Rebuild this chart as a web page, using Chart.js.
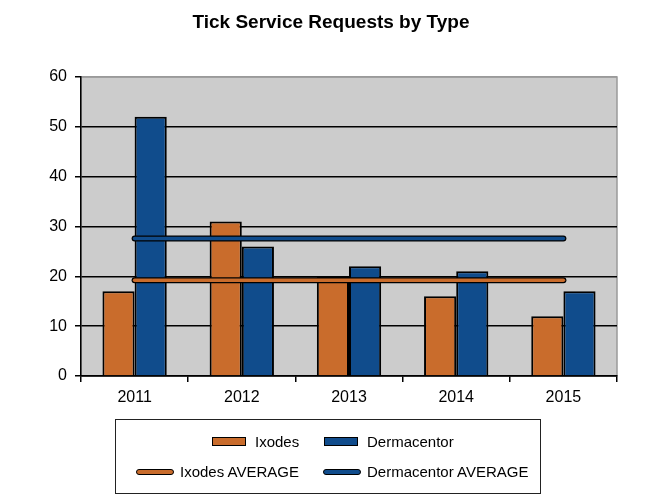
<!DOCTYPE html>
<html>
<head>
<meta charset="utf-8">
<script src="https://cdn.jsdelivr.net/npm/chart.js@4/dist/chart.umd.min.js"></script>
<style>
  body { margin: 0; background: #fff; font-family: "Liberation Sans", Arial, sans-serif; }
  #wrap { position: relative; width: 650px; height: 504px; }
  #title { position: absolute; left: 131px; width: 400px; top: 11px; text-align: center;
           font-size: 19px; font-weight: bold; color: #000; }
  #legend { position: absolute; left: 115px; top: 419px; width: 424px; height: 73px;
            border: 1px solid #222; box-sizing: content-box; font-size: 15px; color: #000; }
  .item { position: absolute; display: flex; align-items: center; white-space: nowrap; }
  .box { width: 32px; height: 7px; border: 1.5px solid #000; margin-right: 9px; }
  .ln { width: 36px; height: 4px; border: 1.5px solid #000; border-radius: 4px; margin-right: 6px; }
</style>
</head>
<body>
<div id="wrap">
  <canvas id="chart" width="650" height="504"></canvas>
  <div id="title">Tick Service Requests by Type</div>
  <div id="legend">
    <div class="item" style="left:96px;top:13px"><span class="box" style="background:#C96C2C"></span>Ixodes</div>
    <div class="item" style="left:208px;top:13px"><span class="box" style="background:#104C8C"></span>Dermacentor</div>
    <div class="item" style="left:20px;top:43px"><span class="ln" style="background:#C96C2C"></span>Ixodes AVERAGE</div>
    <div class="item" style="left:207px;top:43px"><span class="ln" style="background:#104C8C"></span>Dermacentor AVERAGE</div>
  </div>
</div>
<script>
const years = ['2011', '2012', '2013', '2014', '2015'];
const ixodes = [17, 31, 20, 16, 12];
const dermacentor = [52, 26, 22, 21, 17];
const ixodesAvg = [19.2, 19.2, 19.2, 19.2, 19.2];
const dermacentorAvg = [27.6, 27.6, 27.6, 27.6, 27.6];

const ORANGE = '#C96C2C';
const BLUE = '#104C8C';

const plotBg = {
  id: 'plotBg',
  beforeDraw(chart) {
    const { ctx, chartArea: a } = chart;
    ctx.save();
    ctx.fillStyle = '#CCCCCC';
    ctx.fillRect(a.left, a.top, a.right - a.left, a.bottom - a.top);
    ctx.strokeStyle = '#9a9a9a';
    ctx.lineWidth = 1.5;
    ctx.strokeRect(a.left, a.top, a.right - a.left, a.bottom - a.top);
    ctx.restore();
  }
};

function avgLine(label, data, color, width, order) {
  return {
    type: 'line',
    label: label,
    data: data,
    borderColor: color,
    borderWidth: width,
    borderCapStyle: 'round',
    pointRadius: 0,
    fill: false,
    order: order
  };
}

new Chart(document.getElementById('chart'), {
  type: 'bar',
  data: {
    labels: years,
    datasets: [
      { label: 'Ixodes', data: ixodes, backgroundColor: ORANGE, borderColor: '#000', borderWidth: 2, order: 5 },
      { label: 'Dermacentor', data: dermacentor, backgroundColor: BLUE, borderColor: '#000', borderWidth: 2, order: 5 },
      avgLine('Ixodes AVERAGE outline', ixodesAvg, '#000', 6, 4),
      avgLine('Ixodes AVERAGE', ixodesAvg, ORANGE, 3.5, 3),
      avgLine('Dermacentor AVERAGE outline', dermacentorAvg, '#000', 6, 2),
      avgLine('Dermacentor AVERAGE', dermacentorAvg, BLUE, 3.5, 1)
    ]
  },
  options: {
    responsive: false,
    animation: false,
    layout: { padding: { left: 0, right: 33, top: 77, bottom: 100 } },
    datasets: { bar: { categoryPercentage: 0.6, barPercentage: 1.0 } },
    scales: {
      x: {
        afterFit: (s) => { s.height = 28; },
        grid: { offset: true, drawOnChartArea: false, color: '#000', tickLength: 6, lineWidth: 1.5 },
        border: { color: '#000', width: 1.5 },
        ticks: { color: '#000', font: { family: 'Liberation Sans', size: 16 }, padding: 6 }
      },
      y: {
        min: 0,
        max: 60,
        afterFit: (s) => { s.width = 81; },
        grid: {
          color: (c) => (c.tick && c.tick.value === 60 ? '#9a9a9a' : '#000'),
          lineWidth: 1.5,
          tickLength: 6,
          tickColor: '#000'
        },
        border: { color: '#000', width: 1.5 },
        ticks: { stepSize: 10, color: '#000', font: { family: 'Liberation Sans', size: 16 }, padding: 8 }
      }
    },
    plugins: {
      legend: { display: false },
      tooltip: { enabled: false },
      title: { display: false }
    }
  },
  plugins: [plotBg]
});
</script>
</body>
</html>
